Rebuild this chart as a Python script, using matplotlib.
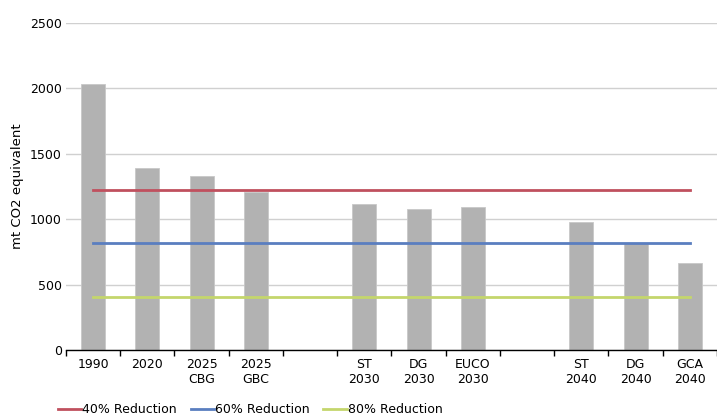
import matplotlib.pyplot as plt
import numpy as np

plt.rcParams['font.family'] = ['DejaVu Sans']

# categories (blank slots separate the scenario groups)
labels = ["1990", "2020", "2025\nCBG", "2025\nGBC", "",
          "ST\n2030", "DG\n2030", "EUCO\n2030", "",
          "ST\n2040", "DG\n2040", "GCA\n2040"]
emissions = [2030, 1390, 1330, 1210, np.nan,
             1115, 1080, 1090, np.nan,
             978, 818, 665]

# reduction targets
target_names = ["40% Reduction", "60% Reduction", "80% Reduction"]
target_values = [1220, 815, 405]
target_colors = ["#c0505e", "#5a7ec0", "#c4d66c"]

fig = plt.figure(figsize=(7.17, 4.19), dpi=100)
ax = fig.add_axes([0.092, 0.165, 0.908, 0.78])

x = np.arange(len(labels))
ax.bar(x, emissions, width=0.44, color="#b2b2b2", edgecolor="#c8c8c8", linewidth=0.6, zorder=2)

for name, val, col in zip(target_names, target_values, target_colors):
    ax.plot([x[0], x[-1]], [val, val], color=col, linewidth=2, label=name, zorder=3)

ax.set_xlim(-0.5, len(labels) - 0.5)
ax.set_ylim(0, 2500)
ax.set_yticks([0, 500, 1000, 1500, 2000, 2500])
ax.yaxis.grid(True, color="#d0d0d0", linewidth=1, zorder=0)
ax.set_axisbelow(True)

ax.set_xticks(x)
ax.set_xticklabels(labels, fontsize=9)
ax.tick_params(axis="x", length=0, pad=6)
ax.set_xticks(np.arange(len(labels) + 1) - 0.5, minor=True)
ax.tick_params(axis="x", which="minor", length=4, width=1, color="black", direction="out")
ax.tick_params(axis="y", length=0, labelsize=9, pad=3)

for s in ["top", "right", "left"]:
    ax.spines[s].set_visible(False)
ax.spines["bottom"].set_color("black")
ax.spines["bottom"].set_linewidth(1)

ax.set_ylabel("mt CO2 equivalent", fontsize=9.5, labelpad=4)

ax.legend(loc="upper left", bbox_to_anchor=(-0.02, -0.148), ncol=3, frameon=False,
          fontsize=9, handlelength=1.85, handletextpad=0.1, columnspacing=1.1,
          borderaxespad=0)

fig.savefig("out.png", dpi=100)
